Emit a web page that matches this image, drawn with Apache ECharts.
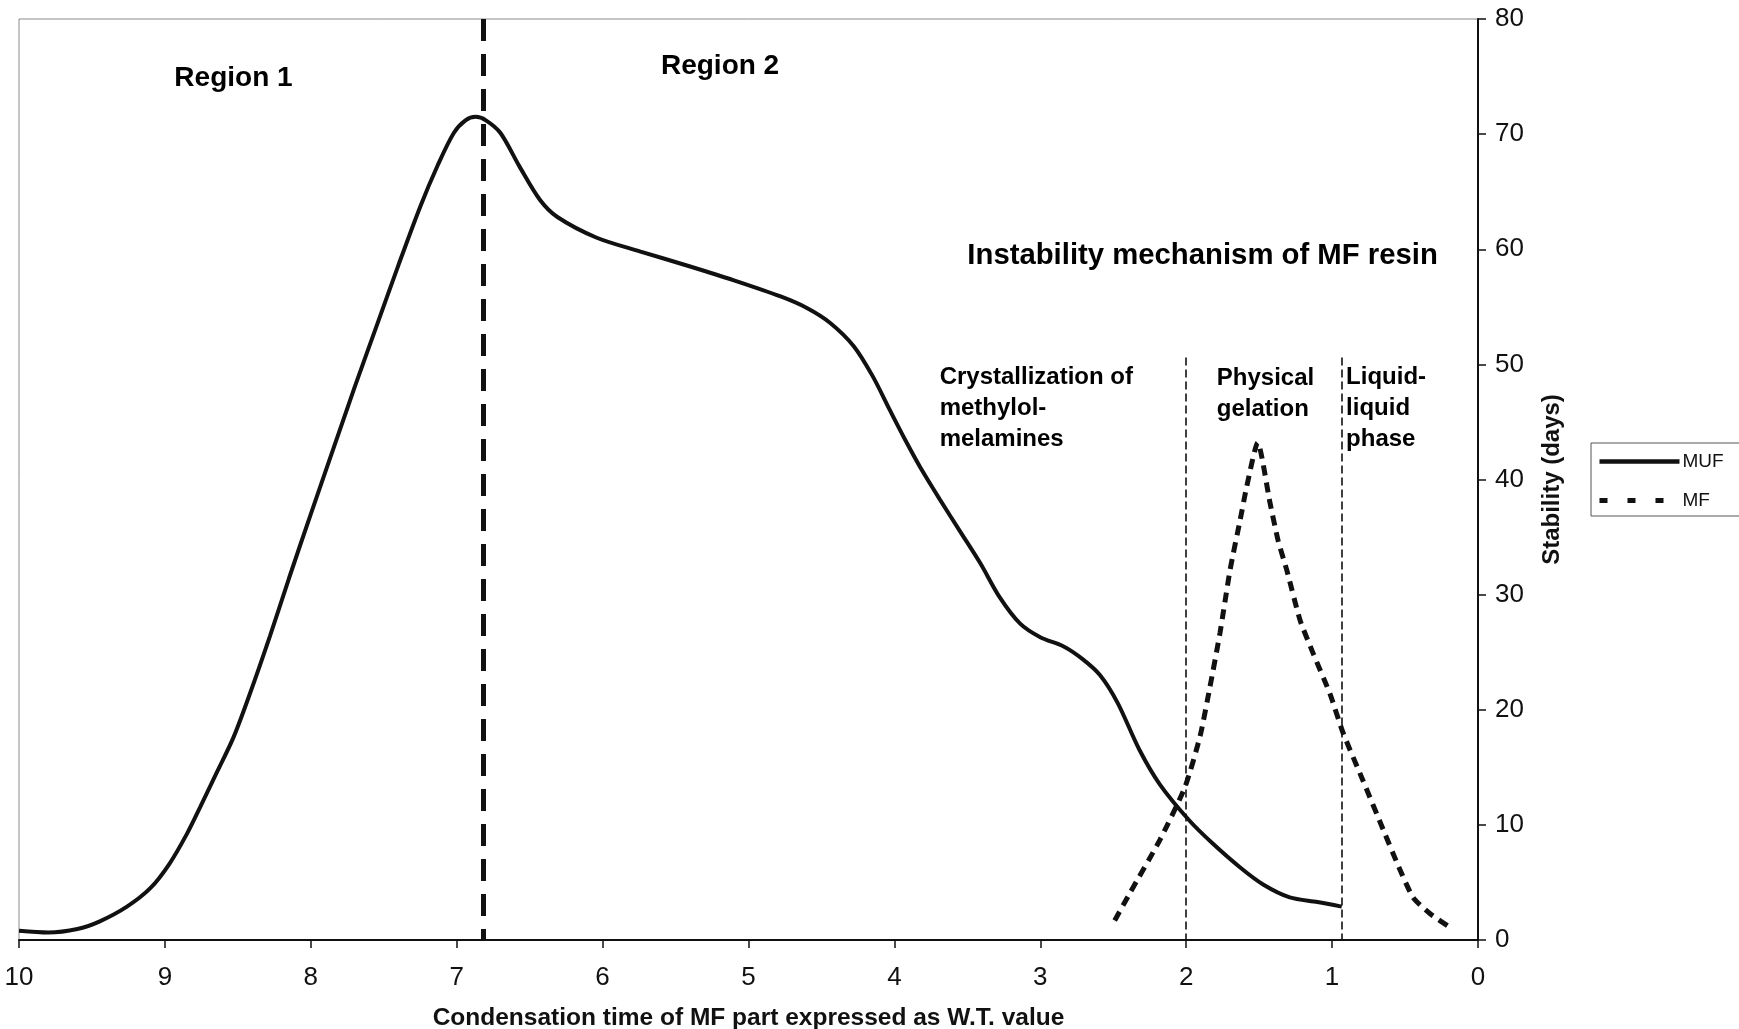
<!DOCTYPE html>
<html>
<head>
<meta charset="utf-8">
<script src="https://cdn.jsdelivr.net/npm/echarts@6/dist/echarts.min.js"></script>
<style>
html,body{margin:0;padding:0;background:#fff;}
#chart{width:1739px;height:1029px;}
</style>
</head>
<body>
<div id="chart"></div>
<script>
// ---- data ----
const seriesNames = ['MUF', 'MF'];
const mufX = [10, 9.8, 9.6, 9.45, 9.26, 9.1, 8.97, 8.85, 8.76, 8.65, 8.53, 8.42, 8.28, 8.15, 8.0, 7.85, 7.7, 7.55, 7.4, 7.25, 7.13, 7.02, 6.94, 6.87, 6.8, 6.7, 6.57, 6.43, 6.31, 6.04, 5.74, 5.4, 5.1, 4.78, 4.6, 4.44, 4.28, 4.15, 4.03, 3.92, 3.82, 3.69, 3.55, 3.41, 3.28, 3.14, 3.0, 2.84, 2.71, 2.59, 2.47, 2.32, 2.18, 1.98, 1.82, 1.63, 1.47, 1.29, 1.1, 0.934];
const mufY = [0.8, 0.65, 0.95, 1.6, 2.9, 4.5, 6.6, 9.2, 11.5, 14.4, 17.6, 21.3, 26.4, 31.4, 37.0, 42.5, 48.0, 53.3, 58.6, 63.7, 67.3, 70.1, 71.2, 71.5, 71.2, 70.1, 67.2, 64.3, 62.8, 61.0, 59.8, 58.5, 57.3, 55.9, 54.9, 53.6, 51.6, 49.0, 46.0, 43.3, 41.0, 38.3, 35.5, 32.7, 29.8, 27.5, 26.3, 25.5, 24.4, 23.0, 20.6, 16.5, 13.5, 10.4, 8.4, 6.3, 4.8, 3.7, 3.3, 2.9];
const mfX = [2.49, 2.385, 2.18, 2.008, 1.905, 1.837, 1.768, 1.70, 1.63, 1.585, 1.51, 1.426, 1.37, 1.31, 1.22, 1.13, 1.015, 0.925, 0.79, 0.65, 0.555, 0.445, 0.33, 0.18];
const mfY = [1.7, 4.1, 8.7, 13.3, 17.7, 22.0, 26.7, 32.1, 36.5, 39.4, 43.2, 38.0, 34.7, 32.1, 27.8, 24.9, 21.4, 18.0, 13.9, 9.6, 6.7, 3.7, 2.3, 1.0];
const regionBoundary = 6.82;
const mechanismBounds = [2.0, 0.934];
const mechanismTop = 50.6;
const xTicks = [0, 1, 2, 3, 4, 5, 6, 7, 8, 9, 10];
const yTicks = [0, 10, 20, 30, 40, 50, 60, 70, 80];
const xTitle = 'Condensation time of MF part expressed as W.T. value';
const yTitle = 'Stability (days)';

// ---- chart ----
const FONT = "'Liberation Sans', Arial, sans-serif";
const chart = echarts.init(document.getElementById('chart'), null, {renderer: 'canvas'});

const zip = (xs, ys) => xs.map((x, i) => [x, ys[i]]);

const annotations = [
  {name: 'Region 1', value: [8.53, 74.85], align: 'center', size: 28},
  {name: 'Region 2', value: [5.60, 75.85], align: 'left', size: 28},
  {name: 'Instability mechanism of MF resin', value: [3.50, 59.45], align: 'left', size: 29.3},
  {name: 'Crystallization of\nmethylol-\nmelamines', value: [3.69, 46.15], align: 'left', size: 24},
  {name: 'Physical\ngelation', value: [1.79, 47.45], align: 'left', size: 24},
  {name: 'Liquid-\nliquid\nphase', value: [0.904, 46.15], align: 'left', size: 24}
];

const option = {
  animation: false,
  backgroundColor: '#ffffff',
  grid: {left: 19, right: 261, top: 19, bottom: 89, show: true, borderColor: '#8a8a8a', borderWidth: 1,
         containLabel: false, outerBoundsMode: 'none'},
  legend: {
    orient: 'vertical', left: 1591, top: 443,
    data: [
      {name: 'MUF', lineStyle: {width: 4.5, type: 'solid', color: '#111'}},
      {name: 'MF', lineStyle: {width: 5, type: [8, 20], color: '#111'}}
    ],
    itemWidth: 80, itemHeight: 14, itemGap: 20,
    padding: [9, 40, 6, 6],
    borderColor: '#555', borderWidth: 1,
    itemStyle: {color: 'rgba(0,0,0,0)', borderColor: 'rgba(0,0,0,0)', borderWidth: 0, opacity: 0},
    textStyle: {fontFamily: FONT, fontSize: 19, color: '#111', padding: [0, 0, 0, -2]}
  },
  xAxis: {
    type: 'value', min: 0, max: 10, interval: 1, inverse: true,
    name: xTitle, nameLocation: 'middle', nameGap: 66,
    nameTextStyle: {fontFamily: FONT, fontWeight: 'bold', fontSize: 24.5, color: '#111'},
    axisLine: {show: true, lineStyle: {color: '#111', width: 2}},
    axisTick: {show: true, inside: false, length: 8, lineStyle: {color: '#111', width: 1.5}},
    axisLabel: {fontFamily: FONT, fontSize: 26, color: '#111', margin: 25,
      formatter: v => xTicks.includes(v) ? String(v) : ''},
    splitLine: {show: false}
  },
  yAxis: {
    type: 'value', min: 0, max: 80, interval: 10, position: 'right',
    name: yTitle, nameLocation: 'middle', nameGap: 62, nameRotate: 90,
    nameTextStyle: {fontFamily: FONT, fontWeight: 'bold', fontSize: 24, color: '#111'},
    axisLine: {show: true, lineStyle: {color: '#111', width: 2}},
    axisTick: {show: true, inside: false, length: 8, lineStyle: {color: '#111', width: 1.5}},
    axisLabel: {fontFamily: FONT, fontSize: 26, color: '#111', margin: 17,
      formatter: v => yTicks.includes(v) ? String(v) : ''},
    splitLine: {show: false}
  },
  series: [
    {
      name: 'MUF', type: 'line', data: zip(mufX, mufY), smooth: 0.3,
      symbol: 'none', showSymbol: false,
      lineStyle: {color: '#111', width: 4},
      itemStyle: {color: '#111'},
      z: 3,
      markLine: {
        silent: true, symbol: 'none', label: {show: false},
        data: [
          [{coord: [regionBoundary, 80], lineStyle: {color: '#111', width: 5, type: [22, 13]}},
           {coord: [regionBoundary, 0]}],
          [{coord: [mechanismBounds[0], mechanismTop], lineStyle: {color: '#111', width: 1.6, type: [8, 4]}},
           {coord: [mechanismBounds[0], 0]}],
          [{coord: [mechanismBounds[1], mechanismTop], lineStyle: {color: '#111', width: 1.6, type: [8, 4]}},
           {coord: [mechanismBounds[1], 0]}]
        ]
      }
    },
    {
      name: 'MF', type: 'line', data: zip(mfX, mfY), smooth: 0.2,
      symbol: 'none', showSymbol: false,
      lineStyle: {color: '#111', width: 5, type: [10, 7]},
      itemStyle: {color: '#111'},
      z: 3
    },
    {
      name: 'notes', type: 'scatter', silent: true, symbolSize: 0,
      itemStyle: {opacity: 1, color: '#000'},
      data: annotations.map(a => ({
        name: a.name, value: a.value,
        label: {
          show: true, position: 'inside', formatter: '{b}',
          align: a.align, verticalAlign: 'middle',
          fontFamily: FONT, fontWeight: 'bold', fontSize: a.size,
          lineHeight: 31, color: '#000', opacity: 1,
          textBorderWidth: 0
        }
      })),
      z: 5
    }
  ]
};
chart.setOption(option);
</script>
</body>
</html>
